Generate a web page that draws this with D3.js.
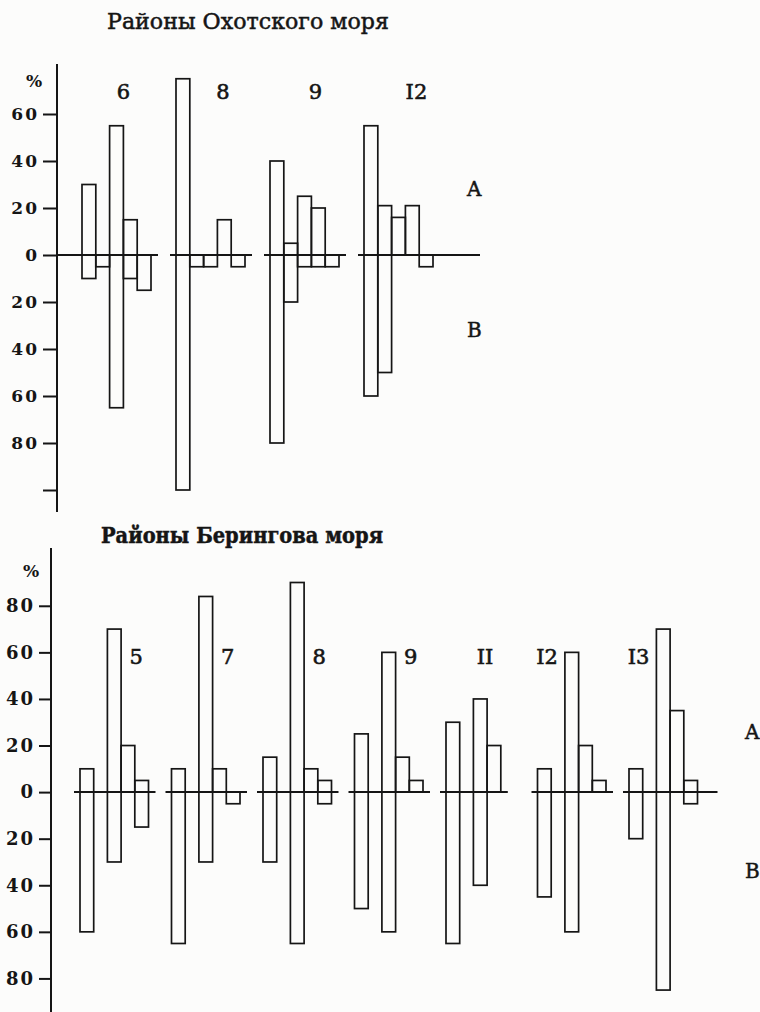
<!DOCTYPE html>
<html>
<head>
<meta charset="utf-8">
<script src="https://cdn.jsdelivr.net/npm/d3@7"></script>
<style>
  body { margin: 0; background: #fcfcfb; }
  svg { display: block; }
</style>
</head>
<body>
<script>
// Районы Охотского моря: A - up, B - down, 5 slots per region
const okhGroups = ["6", "8", "9", "I2"];
const okhA = [
  [30, 0, 55, 15, 0],
  [75, 0, 0, 15, 0],
  [40, 5, 25, 20, 0],
  [55, 21, 16, 21, 0]
];
const okhB = [
  [10, 5, 65, 10, 15],
  [100, 5, 5, 0, 5],
  [80, 20, 5, 5, 5],
  [60, 50, 0, 0, 5]
];
const okhTicks = [60, 40, 20, 0, -20, -40, -60, -80, -100];

// Районы Берингова моря
const berGroups = ["5", "7", "8", "9", "II", "I2", "I3"];
const berA = [
  [10, 0, 70, 20, 5],
  [10, 0, 84, 10, 0],
  [15, 0, 90, 10, 5],
  [25, 0, 60, 15, 5],
  [30, 0, 40, 20, 0],
  [10, 0, 60, 20, 5],
  [10, 0, 70, 35, 5]
];
const berB = [
  [60, 0, 30, 0, 15],
  [65, 0, 30, 0, 5],
  [30, 0, 65, 0, 5],
  [50, 0, 60, 0, 0],
  [65, 0, 40, 0, 0],
  [45, 0, 60, 0, 0],
  [20, 0, 85, 0, 5]
];
const berTicks = [80, 60, 40, 20, 0, -20, -40, -60, -80];

const width = 760, height = 1012;
const serif = "'DejaVu Serif', 'Liberation Serif', serif";
const ink = "#151515";

const svg = d3.select("body").append("svg")
  .attr("width", width)
  .attr("height", height);

svg.append("rect").attr("width", width).attr("height", height).attr("fill", "#fcfcfb");

const panels = [
  {
    title: "Районы Охотского моря", titleX: 107, titleY: 29, titleLen: 282, titleWeight: "normal",
    groups: okhGroups, A: okhA, B: okhB, ticks: okhTicks,
    yDomain: [-100, 80], yRange: [490, 67],
    axisX: 57, axisTop: 64, axisBottom: 512, tickLen: 14, tickFont: 17,
    groupRange: [82, 364], slotW: 13.8, lastTail: 47,
    labelSlot: [3.0, 3.4, 3.3, 3.8], labelY: 99,
    pctY: 87, pctX: 26, abX: 467, aVal: 25, bVal: -35
  },
  {
    title: "Районы Берингова моря", titleX: 101, titleY: 543, titleLen: 282, titleWeight: "bold",
    groups: berGroups, A: berA, B: berB, ticks: berTicks,
    yDomain: [-100, 90], yRange: [1025, 582.5],
    axisX: 51, axisTop: 548, axisBottom: 1012, tickLen: 12, tickFont: 18,
    groupRange: [80, 629], slotW: 13.7, lastTail: 20,
    labelSlot: [4.1, 4.1, 4.1, 4.1, 2.85, 0.7, 0.7], labelY: 664,
    pctY: 577, pctX: 23, abX: 745, aVal: 23, bVal: -37
  }
];

panels.forEach(drawPanel);

function drawPanel(p) {
  const g = svg.append("g");

  const y = d3.scaleLinear().domain(p.yDomain).range(p.yRange);
  const gx = d3.scalePoint().domain(p.groups).range(p.groupRange);
  const slot = d3.scaleBand().domain(d3.range(5)).range([0, 5 * p.slotW]);

  // title
  g.append("text")
    .attr("x", p.titleX)
    .attr("y", p.titleY)
    .attr("textLength", p.titleLen)
    .attr("lengthAdjust", "spacingAndGlyphs")
    .style("font", `${p.titleWeight} 22px ${serif}`)
    .attr("fill", ink)
    .attr("stroke", ink)
    .attr("stroke-width", 0.5)
    .text(p.title);

  // y axis
  const axis = g.append("g")
    .attr("transform", `translate(${p.axisX},0)`)
    .call(d3.axisLeft(y)
      .tickValues(p.ticks)
      .tickSize(p.tickLen)
      .tickSizeOuter(0)
      .tickPadding(4)
      .tickFormat(d => (d === -100 ? "" : Math.abs(d))));
  axis.select(".domain").remove();
  axis.selectAll(".tick line").attr("stroke", ink).attr("stroke-width", 2);
  axis.selectAll(".tick text")
    .attr("fill", ink)
    .style("font", `bold ${p.tickFont}px ${serif}`)
    .style("letter-spacing", "2px");

  g.append("line")
    .attr("x1", p.axisX).attr("x2", p.axisX)
    .attr("y1", p.axisTop).attr("y2", p.axisBottom)
    .attr("stroke", ink).attr("stroke-width", 2);

  g.append("text")
    .attr("x", p.pctX).attr("y", p.pctY)
    .style("font", `bold 17px ${serif}`)
    .attr("fill", ink)
    .text("%");

  // bars and zero lines
  p.groups.forEach((name, i) => {
    const x0 = gx(name);
    const rows = d3.range(5).map(j => ({ j, a: p.A[i][j], b: p.B[i][j] }));
    const used = rows.filter(d => d.a || d.b);

    g.append("g")
      .selectAll("rect")
      .data(used)
      .join("rect")
      .attr("x", d => x0 + slot(d.j))
      .attr("y", d => y(d.a))
      .attr("width", slot.bandwidth())
      .attr("height", d => y(-d.b) - y(d.a))
      .attr("fill", "none")
      .attr("stroke", ink)
      .attr("stroke-width", 1.7);

    const first = used[0].j, last = used[used.length - 1].j;
    let lx1 = x0 + slot(first) - 6;
    let lx2 = x0 + slot(last) + slot.bandwidth() + 7;
    if (i === 0 && p.groups === okhGroups) lx1 = p.axisX;
    if (i === p.groups.length - 1) lx2 = x0 + slot(last) + slot.bandwidth() + p.lastTail;
    g.append("line")
      .attr("x1", lx1).attr("x2", lx2)
      .attr("y1", y(0)).attr("y2", y(0))
      .attr("stroke", ink).attr("stroke-width", 2);

    g.append("text")
      .attr("x", x0 + p.labelSlot[i] * p.slotW)
      .attr("y", p.labelY)
      .attr("text-anchor", "middle")
      .style("font", `normal 21px ${serif}`)
      .attr("fill", ink)
      .attr("stroke", ink)
      .attr("stroke-width", 0.6)
      .text(name);
  });

  // A / B marks
  [["A", p.aVal], ["B", p.bVal]].forEach(([t, v]) => {
    g.append("text")
      .attr("x", p.abX).attr("y", y(v))
      .style("font", `normal 20px ${serif}`)
      .attr("fill", ink)
      .attr("stroke", ink)
      .attr("stroke-width", 0.5)
      .text(t);
  });
}
</script>
</body>
</html>
